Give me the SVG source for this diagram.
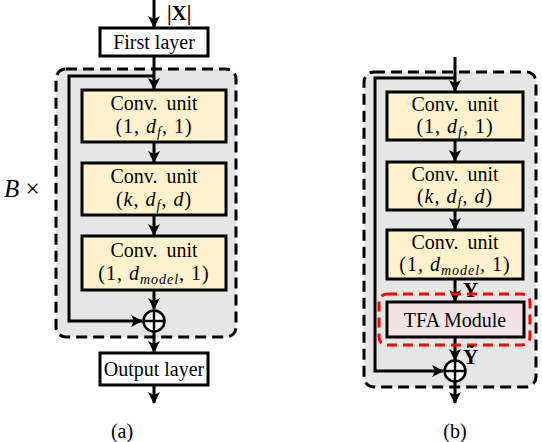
<svg xmlns="http://www.w3.org/2000/svg" width="542" height="442" viewBox="0 0 542 442">
<style>
.t{font-family:"Liberation Serif","Times New Roman",serif;font-size:20px;fill:#000}
.m{font-style:italic}
.sub{font-style:italic;font-size:14px}
.lbl{font-weight:bold;font-size:21px}
.box{stroke:#000;stroke-width:3}
.conv{fill:#fff2cc}
.white{fill:#fff}
.tfa{fill:#f2e4e4}
.blk{fill:#e6e6e6;stroke:#000;stroke-width:3;stroke-dasharray:11 6}
.red{fill:none;stroke:#ff0000;stroke-width:3;stroke-dasharray:10 6}
.ln{fill:none;stroke:#000;stroke-width:3}
.arr{marker-end:url(#ah)}
.plus{stroke:#000;stroke-width:2.5}
</style>
<defs>
<marker id="ah" markerUnits="userSpaceOnUse" markerWidth="14" markerHeight="14" refX="11" refY="6" orient="auto">
<path d="M0,0 L12,6 L0,12 L3,6 z" fill="#000"/>
</marker>
</defs>

<g id="blockA">
<rect x="56" y="69" width="180" height="268" rx="10" class="blk"/>
</g>
<g id="blockB">
<rect x="364" y="72" width="172" height="315" rx="10" class="blk"/>
</g>

<g id="connectors">
<line x1="154" y1="0" x2="154" y2="27" class="ln arr"/>
<line x1="154" y1="56" x2="154" y2="89" class="ln arr"/>
<path d="M154,76 H69 V321 H142" class="ln arr"/>
<line x1="154" y1="142" x2="154" y2="162" class="ln arr"/>
<line x1="154" y1="215" x2="154" y2="235" class="ln arr"/>
<line x1="154" y1="290" x2="154" y2="309" class="ln arr"/>
<line x1="154" y1="321" x2="154" y2="352" class="ln arr"/>
<line x1="154" y1="385" x2="154" y2="403" class="ln arr"/>

<line x1="455" y1="57" x2="455" y2="91" class="ln arr"/>
<path d="M455,78 H375 V371 H443" class="ln arr"/>
<line x1="455" y1="140" x2="455" y2="161" class="ln arr"/>
<line x1="455" y1="210" x2="455" y2="229" class="ln arr"/>
<line x1="455" y1="279" x2="455" y2="301" class="ln arr"/>
<line x1="455" y1="337" x2="455" y2="360" class="ln arr"/>
<line x1="455" y1="371" x2="455" y2="403" class="ln arr"/>
</g>

<g id="inputLabel">
<text x="167" y="20" class="t lbl">|X|</text>
</g>

<g id="firstLayer">
<rect x="100" y="28" width="108" height="28" class="box white"/>
<text x="154" y="49" class="t" text-anchor="middle">First layer</text>
</g>

<g id="convA1">
<rect x="82" y="90" width="144" height="52" class="box conv"/>
<text x="154" y="110" class="t" text-anchor="middle" word-spacing="4">Conv. unit</text>
<text x="154" y="133" class="t" text-anchor="middle" letter-spacing="1">(1, <tspan class="m">d</tspan><tspan class="sub" dy="4">f</tspan><tspan dy="-4">, 1)</tspan></text>
</g>

<g id="convA2">
<rect x="82" y="163" width="144" height="52" class="box conv"/>
<text x="154" y="183" class="t" text-anchor="middle" word-spacing="4">Conv. unit</text>
<text x="154" y="206" class="t" text-anchor="middle" letter-spacing="1">(<tspan class="m">k</tspan>, <tspan class="m">d</tspan><tspan class="sub" dy="4">f</tspan><tspan dy="-4">, </tspan><tspan class="m">d</tspan>)</text>
</g>

<g id="convA3">
<rect x="82" y="236" width="144" height="54" class="box conv"/>
<text x="154" y="257" class="t" text-anchor="middle" word-spacing="4">Conv. unit</text>
<text x="154" y="280" class="t" text-anchor="middle" letter-spacing="1">(1, <tspan class="m">d</tspan><tspan class="sub" dy="4">model</tspan><tspan dy="-4">, 1)</tspan></text>
</g>

<g id="addA">
<circle cx="154" cy="321" r="10.5" fill="#fff" class="plus"/>
<line x1="144" y1="321" x2="164" y2="321" class="plus"/>
<line x1="154" y1="311" x2="154" y2="331" class="plus"/>
</g>

<g id="outputLayer">
<rect x="100" y="353" width="108" height="32" class="box white"/>
<text x="154" y="376" class="t" text-anchor="middle">Output layer</text>
</g>

<g id="repeatLabel">
<text x="4" y="197" class="t" style="font-size:25px"><tspan class="m">B</tspan> ×</text>
</g>

<g id="captionA"><text x="122" y="438" class="t" text-anchor="middle">(a)</text></g>

<g id="convB1">
<rect x="387" y="92" width="136" height="48" class="box conv"/>
<text x="455" y="111" class="t" text-anchor="middle" word-spacing="4">Conv. unit</text>
<text x="455" y="133" class="t" text-anchor="middle" letter-spacing="1">(1, <tspan class="m">d</tspan><tspan class="sub" dy="4">f</tspan><tspan dy="-4">, 1)</tspan></text>
</g>

<g id="convB2">
<rect x="387" y="162" width="136" height="48" class="box conv"/>
<text x="455" y="181" class="t" text-anchor="middle" word-spacing="4">Conv. unit</text>
<text x="455" y="203" class="t" text-anchor="middle" letter-spacing="1">(<tspan class="m">k</tspan>, <tspan class="m">d</tspan><tspan class="sub" dy="4">f</tspan><tspan dy="-4">, </tspan><tspan class="m">d</tspan>)</text>
</g>

<g id="convB3">
<rect x="387" y="230" width="136" height="49" class="box conv"/>
<text x="455" y="249" class="t" text-anchor="middle" word-spacing="4">Conv. unit</text>
<text x="455" y="271" class="t" text-anchor="middle" letter-spacing="1">(1, <tspan class="m">d</tspan><tspan class="sub" dy="4">model</tspan><tspan dy="-4">, 1)</tspan></text>
</g>

<g id="yLabel"><text x="463" y="297" class="t lbl">Y</text></g>

<g id="tfaModule">
<rect x="379" y="294" width="151" height="51" rx="8" class="red"/>
<rect x="387" y="302" width="137" height="35" class="box tfa"/>
<text x="455" y="327" class="t" text-anchor="middle">TFA Module</text>
</g>

<g id="yTildeLabel"><text x="463" y="364" class="t lbl">Ỹ</text></g>

<g id="addB">
<circle cx="455" cy="371" r="10.5" fill="#fff" class="plus"/>
<line x1="445" y1="371" x2="465" y2="371" class="plus"/>
<line x1="455" y1="361" x2="455" y2="381" class="plus"/>
</g>

<g id="captionB"><text x="455" y="438" class="t" text-anchor="middle">(b)</text></g>
</svg>
